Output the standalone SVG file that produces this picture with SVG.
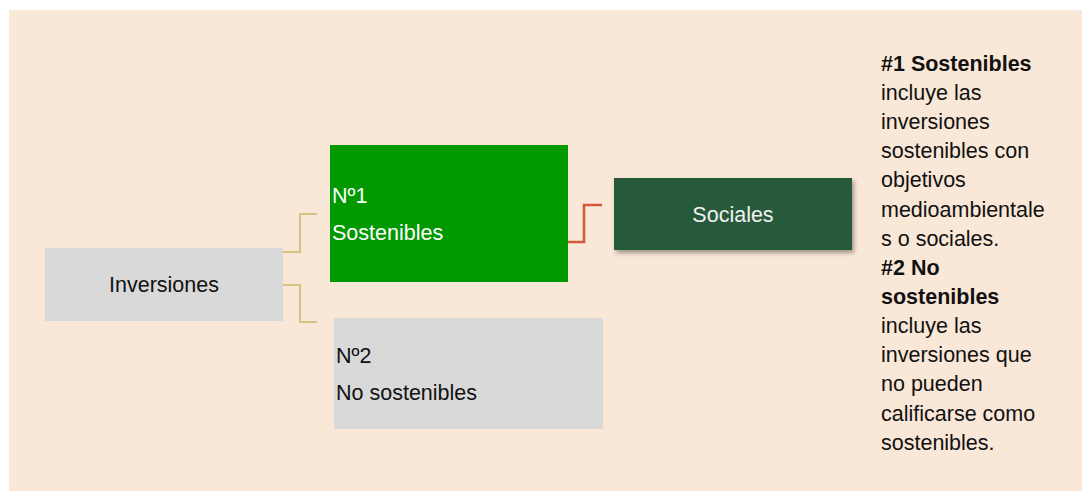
<svg xmlns="http://www.w3.org/2000/svg" width="1082" height="491" viewBox="0 0 1082 491">
<defs>
<style>
.t{font-family:"Liberation Sans",Arial,sans-serif;font-size:21.5px;}
.r{font-family:"Liberation Sans",Arial,sans-serif;font-size:21.5px;fill:#111;}
.b{font-weight:bold;}
.gold{fill:none;stroke:#d3c47e;stroke-width:2;}
.red{fill:none;stroke:#d4573a;stroke-width:2.5;}
</style>
<filter id="sh" x="-10%" y="-20%" width="130%" height="150%">
<feDropShadow dx="2" dy="3" stdDeviation="2" flood-color="#000" flood-opacity="0.35"/>
</filter>
</defs>
<rect x="0" y="0" width="1082" height="491" fill="#ffffff"/>
<rect x="9" y="10" width="1073" height="481" fill="#f9e7d7"/>
<g id="connectors">
<polyline class="gold" points="283,252 300,252 300,214 317,214"/>
<polyline class="gold" points="283,285 300,285 300,322 317,322"/>
<polyline class="red" points="568,242 584,242 584,205 602,205"/>
</g>
<g id="inversiones">
<rect x="45" y="248" width="238" height="73" fill="#d9d9d9"/>
<text class="t" x="164" y="292" text-anchor="middle" fill="#111">Inversiones</text>
</g>
<g id="sostenibles">
<rect x="330" y="145" width="238" height="137" fill="#009900"/>
<text class="t" x="332" y="203" fill="#ffffff">Nº1</text>
<text class="t" x="332" y="240" fill="#ffffff">Sostenibles</text>
</g>
<g id="sociales">
<rect x="614" y="178" width="238" height="72" fill="#265a3b" filter="url(#sh)"/>
<text class="t" x="733" y="222" text-anchor="middle" fill="#f2f2f2">Sociales</text>
</g>
<g id="nosostenibles">
<rect x="334" y="318" width="269" height="111" fill="#d9d9d9"/>
<text class="t" x="336" y="363" fill="#111">Nº2</text>
<text class="t" x="336" y="400" fill="#111">No sostenibles</text>
</g>
<g id="legend">
<text class="r b" x="881" y="71">#1 Sostenibles</text>
<text class="r" x="881" y="100">incluye las</text>
<text class="r" x="881" y="129">inversiones</text>
<text class="r" x="881" y="158">sostenibles con</text>
<text class="r" x="881" y="187">objetivos</text>
<text class="r" x="881" y="217">medioambientale</text>
<text class="r" x="881" y="246">s o sociales.</text>
<text class="r b" x="881" y="275">#2 No</text>
<text class="r b" x="881" y="304">sostenibles</text>
<text class="r" x="881" y="333">incluye las</text>
<text class="r" x="881" y="362">inversiones que</text>
<text class="r" x="881" y="391">no pueden</text>
<text class="r" x="881" y="421">calificarse como</text>
<text class="r" x="881" y="450">sostenibles.</text>
</g>
</svg>
